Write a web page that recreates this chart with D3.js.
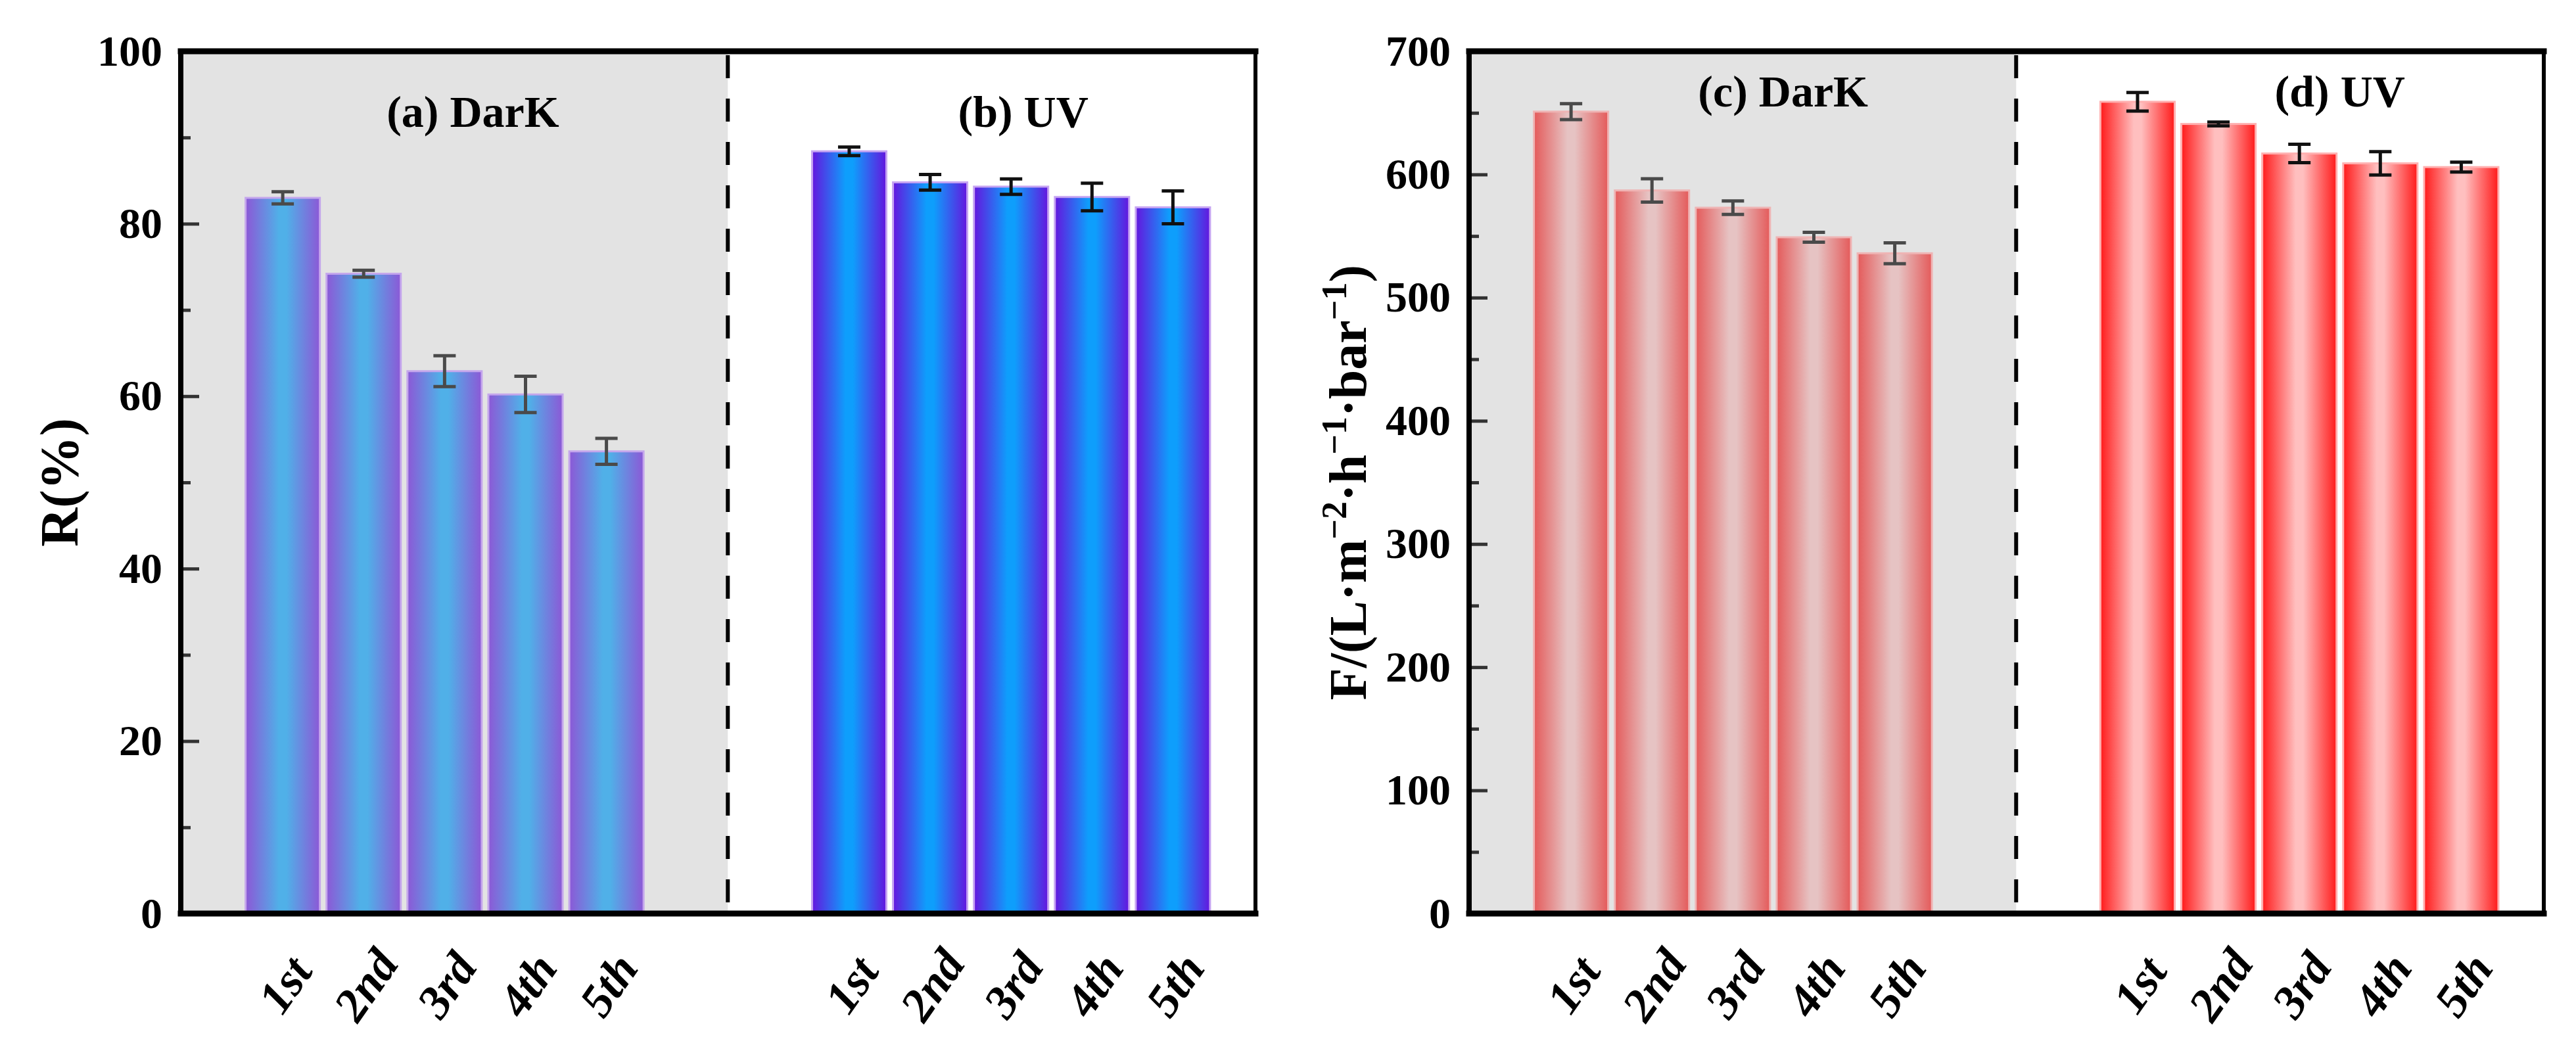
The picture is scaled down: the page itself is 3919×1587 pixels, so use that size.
<!DOCTYPE html>
<html>
<head>
<meta charset="utf-8">
<script src="https://cdnjs.cloudflare.com/ajax/libs/d3/7.8.5/d3.min.js"></script>
<style>
    html, body { margin: 0; padding: 0; background: #fff; }
    svg text { font-family: "Liberation Serif", "Times New Roman", serif; font-weight: bold; fill: #000; }
    .y-axis text { font-size: 66px; }
    .x-axis text { font-size: 72px; font-style: italic; }
</style>
</head>
<body>
<div id="chart"></div>
<script>

const cycles = ["1st", "2nd", "3rd", "4th", "5th"];

const rejectionDark    = [83.0, 74.2, 62.9, 60.2, 53.6];
const rejectionDarkErr = [0.7, 0.4, 1.8, 2.1, 1.5];
const rejectionUV      = [88.4, 84.8, 84.3, 83.1, 81.9];
const rejectionUVErr   = [0.5, 0.9, 0.9, 1.6, 1.9];

const fluxDark    = [651, 587, 573, 549, 536];
const fluxDarkErr = [6.5, 9.5, 5.5, 4.0, 8.5];
const fluxUV      = [659, 641, 617, 609, 606];
const fluxUVErr   = [7.5, 1.5, 7.5, 9.5, 4.0];

const rejectionTicks = [0, 20, 40, 60, 80, 100];
const rejectionMinor = [10, 30, 50, 70, 90];
const fluxTicks = [0, 100, 200, 300, 400, 500, 600, 700];
const fluxMinor = [50, 150, 250, 350, 450, 550, 650];

const panelTitles = ["(a) DarK", "(b) UV", "(c) DarK", "(d) UV"];

const W = 3919, H = 1587;

const svg = d3.select("#chart").append("svg")
    .attr("width", W)
    .attr("height", H);

const defs = svg.append("defs");

function addGradient(id, edge, mid) {
    let g = defs.append("linearGradient")
        .attr("id", id)
        .attr("x1", "0%").attr("x2", "100%")
        .attr("y1", "0%").attr("y2", "0%");
    g.append("stop").attr("offset", "0%").attr("stop-color", edge);
    g.append("stop").attr("offset", "45%").attr("stop-color", mid);
    g.append("stop").attr("offset", "55%").attr("stop-color", mid);
    g.append("stop").attr("offset", "100%").attr("stop-color", edge);
}

addGradient("gA", "#8c58d6", "#50b0e8");
addGradient("gB", "#6416de", "#0e9efc");
addGradient("gC", "#e45a5a", "#e6c3c3");
addGradient("gD", "#ff1a1a", "#ffbfbf");

function BarPanel() {

    let self = this;

    self.initialize = function(conf) {
        self.left   = conf.left;
        self.right  = conf.right;
        self.top    = 78;
        self.bottom = 1390;
        self.conf   = conf;

        /* slots: dark cycles at 1..5, uv cycles at 8..12, divider at 6.5 */
        self.x = d3.scaleLinear()
            .domain([-0.26, 13.02])
            .range([self.left, self.right]);

        self.y = d3.scaleLinear()
            .domain([0, conf.yMax])
            .range([self.bottom, self.top]);

        self.barW = (self.x(1) - self.x(0)) * 0.918;

        self.g = svg.append("g");
        self.render();
    }

    self.render = function() {
        self.renderBackground();
        self.renderBars(toSeries(self.conf.dark, self.conf.darkErr, 1), self.conf.darkFill, self.conf.darkStroke, self.conf.darkErrColor);
        self.renderBars(toSeries(self.conf.uv, self.conf.uvErr, 8), self.conf.uvFill, self.conf.uvStroke, self.conf.uvErrColor);
        self.renderAxes();
        self.renderTexts();
    }

    function toSeries(vals, errs, start) {
        return vals.map((v, i) => ({slot: start + i, value: v, err: errs[i]}));
    }

    self.renderBackground = function() {
        self.g.append("rect")
            .attr("x", self.left)
            .attr("y", self.top)
            .attr("width", self.x(6.5) - self.left)
            .attr("height", self.bottom - self.top)
            .attr("fill", "#e3e3e3");

        self.g.append("line")
            .attr("x1", self.x(6.5)).attr("x2", self.x(6.5))
            .attr("y1", self.top + 6).attr("y2", self.bottom)
            .attr("stroke", "#000")
            .attr("stroke-width", 6)
            .attr("stroke-dasharray", "35,31");
    }

    self.renderBars = function(data, fill, stroke, errColor) {
        let grp = self.g.append("g");

        grp.selectAll(".bar")
            .data(data)
            .enter().append("rect")
            .attr("class", "bar")
            .attr("x", d => self.x(d.slot) - self.barW / 2)
            .attr("y", d => self.y(d.value))
            .attr("width", self.barW)
            .attr("height", d => self.bottom - self.y(d.value))
            .attr("fill", fill)
            .attr("stroke", stroke)
            .attr("stroke-width", 3);

        let eb = grp.selectAll(".err")
            .data(data)
            .enter().append("g")
            .attr("class", "err")
            .attr("stroke", errColor)
            .attr("stroke-width", 5);

        eb.append("line")
            .attr("x1", d => self.x(d.slot)).attr("x2", d => self.x(d.slot))
            .attr("y1", d => self.y(d.value + d.err))
            .attr("y2", d => self.y(d.value - d.err));

        eb.append("line")
            .attr("x1", d => self.x(d.slot) - 17).attr("x2", d => self.x(d.slot) + 17)
            .attr("y1", d => self.y(d.value + d.err))
            .attr("y2", d => self.y(d.value + d.err));

        eb.append("line")
            .attr("x1", d => self.x(d.slot) - 17).attr("x2", d => self.x(d.slot) + 17)
            .attr("y1", d => self.y(d.value - d.err))
            .attr("y2", d => self.y(d.value - d.err));
    }

    self.renderAxes = function() {
        let yAxis = self.g.append("g")
            .attr("class", "y-axis")
            .attr("transform", "translate(" + self.left + ",0)")
            .call(d3.axisLeft(self.y).tickValues(self.conf.ticks).tickSize(-28).tickPadding(28));
        yAxis.select(".domain").remove();
        yAxis.selectAll(".tick line").attr("stroke", "#333").attr("stroke-width", 5);

        let yMinor = self.g.append("g")
            .attr("transform", "translate(" + self.left + ",0)")
            .call(d3.axisLeft(self.y).tickValues(self.conf.minor).tickSize(-15).tickFormat(""));
        yMinor.select(".domain").remove();
        yMinor.selectAll(".tick line").attr("stroke", "#333").attr("stroke-width", 5);

        let slots = d3.range(5).map(i => i + 1).concat(d3.range(5).map(i => i + 8));
        let xAxis = self.g.append("g")
            .attr("class", "x-axis")
            .attr("transform", "translate(0," + self.bottom + ")")
            .call(d3.axisBottom(self.x).tickValues(slots).tickSize(0)
                .tickFormat(s => cycles[s < 7 ? s - 1 : s - 8]));
        xAxis.select(".domain").remove();
        xAxis.selectAll("text")
            .attr("y", null)
            .attr("dy", "0.35em")
            .attr("text-anchor", "middle")
            .attr("transform", "translate(2,108) rotate(-55)");

        /* frame */
        let frame = self.g.append("g").attr("stroke", "#000").attr("stroke-linecap", "square");
        frame.append("line").attr("x1", self.left).attr("x2", self.right)
            .attr("y1", self.top).attr("y2", self.top).attr("stroke-width", 9);
        frame.append("line").attr("x1", self.left).attr("x2", self.right)
            .attr("y1", self.bottom).attr("y2", self.bottom).attr("stroke-width", 9);
        frame.append("line").attr("x1", self.left).attr("x2", self.left)
            .attr("y1", self.top).attr("y2", self.bottom).attr("stroke-width", 8);
        frame.append("line").attr("x1", self.right).attr("x2", self.right)
            .attr("y1", self.top).attr("y2", self.bottom).attr("stroke-width", 6);
    }

    self.renderTexts = function() {
        self.conf.titles.forEach(t => {
            self.g.append("text")
                .attr("x", self.x(t.slot))
                .attr("y", self.y(t.value))
                .attr("text-anchor", "middle")
                .style("font-size", "68px")
                .text(t.text);
        });

        let lab = self.g.append("text")
            .attr("transform", "translate(" + self.conf.labelX + "," + ((self.top + self.bottom) / 2) + ") rotate(-90)")
            .attr("text-anchor", "middle")
            .style("font-size", self.conf.labelSize + "px");
        self.conf.label(lab);
    }
}

new BarPanel().initialize({
    left: 275, right: 1910, yMax: 100,
    ticks: rejectionTicks, minor: rejectionMinor,
    dark: rejectionDark, darkErr: rejectionDarkErr,
    uv: rejectionUV, uvErr: rejectionUVErr,
    darkFill: "url(#gA)", darkStroke: "#c4a6ec", darkErrColor: "#4a4a4a",
    uvFill: "url(#gB)", uvStroke: "#c6a4f2", uvErrColor: "#111",
    titles: [
        {text: panelTitles[0], slot: 3.35, value: 91.2},
        {text: panelTitles[1], slot: 10.15, value: 91.2}
    ],
    labelX: 118, labelSize: 82,
    label: function(t) { t.text("R(%)"); }
});

new BarPanel().initialize({
    left: 2235, right: 3870, yMax: 700,
    ticks: fluxTicks, minor: fluxMinor,
    dark: fluxDark, darkErr: fluxDarkErr,
    uv: fluxUV, uvErr: fluxUVErr,
    darkFill: "url(#gC)", darkStroke: "#efb4b4", darkErrColor: "#4a4a4a",
    uvFill: "url(#gD)", uvStroke: "#ffb0b0", uvErrColor: "#111",
    titles: [
        {text: panelTitles[2], slot: 3.62, value: 655},
        {text: panelTitles[3], slot: 10.5, value: 655}
    ],
    labelX: 2078, labelSize: 80,
    label: function(t) {
        let parts = [["F/(L·m", 0], ["−2", 1], ["·h", 0], ["−1", 1], ["·bar", 0], ["−1", 1], [")", 0]];
        parts.forEach(p => {
            t.append("tspan")
                .attr("baseline-shift", p[1] ? "super" : null)
                .style("font-size", p[1] ? "54px" : null)
                .text(p[0]);
        });
    }
});

</script>
</body>
</html>
